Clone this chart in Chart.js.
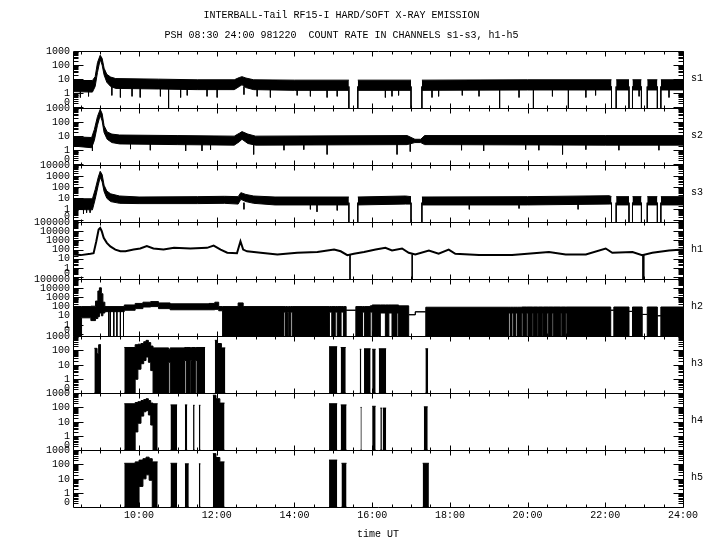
<!DOCTYPE html>
<html>
<head>
<meta charset="utf-8">
<script src="https://cdn.jsdelivr.net/npm/chart.js@4.4.0/dist/chart.umd.min.js"></script>
<style>
  html, body { margin: 0; padding: 0; background: #fff; }
</style>
</head>
<body>
<canvas id="myChart" width="720" height="550"></canvas>
<script>
// ---- data (counts per channel, time in hours UT) ----
var panelIds = ['s1', 's2', 's3', 'h1', 'h2', 'h3', 'h4', 'h5'];
var panelMin = [-1.05, -1.05, -1.14, -1.2, -1.2, -0.95, -0.95, -0.95];
var panelMax = [3, 3, 4, 5, 5, 3, 3, 3];
var zeroLabelAt = -0.63;
var sTickLabels = ['0', '1', '10', '100', '1000'];
var s3TickLabels = ['0', '1', '10', '100', '1000', '10000'];
var hTickLabels = ['0', '1', '10', '100', '1000', '10000', '100000'];
var hourLabels = [10, 12, 14, 16, 18, 20, 22, 24];

var s1Time = [8.30, 8.80, 8.87, 8.93, 9.00, 9.05, 9.10, 9.17, 9.27, 9.40, 10.50, 11.50, 12.45, 12.58, 12.65, 12.75, 12.95, 14.00, 15.40, 15.50, 15.63, 17.00, 17.10, 17.28, 20.00, 22.16, 22.20, 22.28, 22.61, 22.65, 22.70, 22.93, 23.00, 23.08, 23.34, 23.40, 23.43, 24.00];
var s1Hi = [8, 8, 15, 150, 500, 300, 60, 22, 14, 11, 10, 9, 9, 13, 15, 12, 9, 8.5, 8.5, null, 8.5, 8.5, null, 8.5, 9, 9, null, 9, 9, null, 9, 9, null, 9, 9, null, 9, 9];
var s1Lo = [1.3, 1.2, 3, 30, 250, 100, 20, 6, 3, 2.2, 2, 1.8, 1.8, 3, 4, 2.5, 1.8, 1.6, 1.6, null, 1.6, 1.6, null, 1.6, 1.7, 1.7, null, 1.7, 1.7, null, 1.7, 1.7, null, 1.7, 1.7, null, 1.7, 1.7];
var s1DropT = [10.76, 15.40, 15.63, 17.00, 17.28, 19.28, 20.15, 21.05, 22.16, 22.28, 22.61, 22.70, 22.93, 23.08, 23.34, 23.43];
var s1SpikeT = [8.49, 8.70, 9.30, 9.52, 9.82, 10.03, 10.55, 11.07, 11.24, 11.75, 12.01, 12.70, 13.04, 13.38, 14.07, 14.41, 14.84, 15.10, 16.34, 16.51, 16.68, 17.54, 17.71, 18.32, 18.75, 19.78, 20.64, 21.50, 21.75, 22.87, 23.64];
var s1SpikeV = [0.5, 0.6, 0.7, 0.5, 0.6, 0.5, 0.6, 0.5, 0.7, 0.6, 0.5, 0.8, 0.6, 0.5, 0.7, 0.6, 0.5, 0.6, 0.5, 0.6, 0.7, 0.5, 0.6, 0.7, 0.6, 0.5, 0.6, 0.5, 0.7, 0.6, 0.5];

var s2Time = [8.30, 8.78, 8.85, 8.93, 9.00, 9.05, 9.10, 9.18, 9.30, 9.50, 11.00, 12.45, 12.58, 12.65, 12.80, 13.00, 16.90, 17.10, 17.25, 17.35, 22.00, 24.00];
var s2Hi = [9, 8, 30, 250, 800, 400, 55, 20, 14, 12, 11, 10, 16, 21, 14, 10, 11, 6, 6, 11, 11, 11];
var s2Lo = [2, 1.5, 5, 60, 300, 120, 18, 6, 3.5, 2.8, 2.5, 2.3, 4, 6, 3, 2.3, 2.5, 3.5, 3.5, 2.5, 2.3, 2.3];
var s2SpikeT = [8.80, 9.78, 10.29, 11.20, 11.62, 11.84, 12.95, 13.73, 14.24, 14.84, 16.64, 16.98, 18.30, 18.87, 19.95, 20.29, 20.90, 21.50, 22.35, 23.38];
var s2SpikeV = [0.9, 1.2, 1.0, 0.9, 0.9, 1.1, 0.5, 1.0, 1.1, 0.5, 0.5, 0.8, 1.0, 0.9, 1.1, 1.0, 0.5, 1.1, 1.0, 1.0];

var s3Time = [8.30, 8.80, 8.87, 8.95, 9.00, 9.05, 9.10, 9.17, 9.27, 9.50, 10.00, 11.50, 12.20, 12.55, 12.62, 12.75, 12.95, 13.50, 15.40, 15.50, 15.63, 16.86, 17.00, 17.10, 17.28, 20.00, 22.10, 22.16, 22.20, 22.28, 22.61, 22.65, 22.70, 22.93, 23.00, 23.08, 23.34, 23.40, 23.43, 24.00];
var s3Hi = [9, 9, 60, 800, 2700, 1400, 150, 45, 25, 16, 13, 14, 15, 14, 32, 22, 16, 13, 13, null, 13, 16, 14, null, 13, 14, 17, 14, null, 14, 14, null, 14, 14, null, 14, 14, null, 14, 14];
var s3Lo = [1, 0.9, 8, 150, 800, 300, 40, 10, 5, 3.5, 3.3, 3.3, 3.5, 3, 8, 5, 3.5, 2.5, 2.5, null, 2.5, 3, 3, null, 2.5, 2.5, 3, 3, null, 2.5, 2.5, null, 2.5, 2.5, null, 2.5, 2.5, null, 2.5, 2.5];
var s3DropT = [15.40, 15.63, 17.00, 17.28, 22.16, 22.28, 22.61, 22.70, 22.93, 23.08, 23.34, 23.43];
var s3SpikeT = [8.57, 8.65, 8.74, 12.70, 14.41, 14.58, 15.10, 18.50, 19.78, 21.30];
var s3SpikeV = [0.4, 0.5, 0.5, 1.0, 1.0, 0.6, 0.8, 1.0, 1.2, 1.0];

var h1Time = [8.30, 8.50, 8.75, 8.83, 8.90, 8.96, 9.00, 9.04, 9.09, 9.17, 9.26, 9.39, 9.52, 9.65, 9.86, 10.03, 10.20, 10.37, 10.63, 10.90, 11.32, 11.75, 11.92, 12.10, 12.27, 12.52, 12.61, 12.68, 12.78, 13.13, 13.56, 14.07, 14.59, 15.02, 15.19, 15.36, 15.53, 15.79, 16.09, 16.34, 16.51, 16.77, 16.94, 17.11, 17.46, 17.71, 17.97, 18.14, 18.75, 19.60, 20.55, 20.98, 21.50, 22.01, 22.18, 22.70, 22.95, 23.21, 23.64, 24.00];
var h1Val = [30, 25, 35, 40, 800, 15000, 22000, 10000, 1900, 540, 220, 100, 65, 65, 100, 130, 235, 130, 100, 155, 130, 155, 275, 100, 45, 40, 800, 100, 65, 45, 29, 45, 55, 100, 65, 25, 35, 55, 100, 155, 80, 130, 45, 29, 80, 35, 100, 35, 25, 25, 55, 29, 29, 130, 45, 55, 25, 45, 80, 100];
var h1DropT = [15.43, 17.03, 22.97, 22.99];

var h2Time = [
  8.30, 8.52, 8.76, 8.88, 8.94, 8.98, 9.03, 9.07, 9.12, 9.62,
  9.90, 10.10, 10.30, 10.50, 10.80, 11.80, 11.95, 12.05, 12.15, 12.55,
  12.68, 13.73, 13.77, 13.82, 13.85, 13.90, 13.94, 14.90, 14.96, 15.05,
  15.10, 15.20, 15.26, 15.33, 15.58, 15.75, 15.80, 15.95, 16.00, 16.21,
  16.34, 16.43, 16.51, 16.64, 16.68, 16.94, 17.11, 17.38, 19.52, 19.56,
  19.60, 19.64, 19.70, 19.74, 19.85, 19.88, 19.98, 20.01, 20.12, 20.15,
  20.25, 20.28, 20.38, 20.41, 20.50, 20.53, 20.63, 20.66, 20.85, 20.88,
  20.98, 21.01, 22.14, 22.22, 22.61, 22.70, 22.95, 23.08, 23.34, 23.43,
  24.00];
var h2Hi = [
  100, 100, 110, 400, 5000, 11000, 2500, 300, 100, 150,
  220, 300, 350, 250, 200, 220, 300, 100, 100, 250,
  100, 100, 100, 100, 100, 100, 100, 100, 100, 100,
  100, 100, 100, 40, 100, 100, 100, 120, 150, 150,
  150, 150, 150, 150, 120, 13, 27, 85, 85, 85,
  85, 85, 85, 85, 90, 90, 90, 90, 90, 90,
  90, 90, 90, 90, 90, 90, 90, 90, 90, 90,
  90, 90, 40, 90, 30, 90, 14, 90, 10, 90,
  90];
var h2Lo = [
  0, 6, 3, 5, 8, 20, 10, 20, 28, 40,
  60, 90, 100, 60, 45, 45, 50, 35, 0, 0,
  0, 25, 0, 25, 0, 25, 0, 25, 0, 25,
  0, 25, 0, 40, 0, 25, 0, 25, 0, 20,
  0, 20, 0, 20, 0, 13, 27, 0, 20, 0,
  20, 0, 20, 0, 20, 0, 20, 0, 20, 0,
  20, 0, 20, 0, 20, 0, 20, 0, 20, 0,
  20, 0, 40, 0, 30, 0, 14, 0, 10, 0,
  0];
var h2DropT = [9.22, 9.26, 9.35, 9.43, 9.52, 9.60];

var h3Time = [8.85, 8.92, 8.96, 9.02, 9.62, 9.90, 9.97, 10.05, 10.12, 10.18,
  10.24, 10.30, 10.36, 10.76, 10.80, 11.17, 11.21, 11.32, 11.35, 11.45,
  11.49, 11.70, 11.95, 12.02, 12.12, 12.22, 14.89, 15.10, 15.19, 15.32,
  15.68, 15.72, 15.79, 15.96, 16.00, 16.09, 16.17, 16.36, 17.37, 17.44];
var h3Hi = [140, 60, 250, null, 160, 250, 270, 300, 400, 500,
  350, 200, 150, 120, 150, 160, 160, 160, 160, 160,
  160, null, 500, 300, 150, null, 180, null, 160, null,
  120, null, 130, null, 120, null, 130, null, 130, null];
var h3Lo = [0, 0, 0, null, 0, 1, 5, 12, 20, 35,
  15, 4, 0, 15, 0, 20, 0, 20, 0, 20,
  0, null, 0, 0, 0, null, 0, null, 0, null,
  0, null, 0, null, 0, null, 0, null, 0, null];

var h4Time = [9.62, 9.90, 9.97, 10.05, 10.12, 10.18, 10.24, 10.30, 10.36, 10.48,
  10.81, 10.98, 11.18, 11.24, 11.39, 11.43, 11.54, 11.58, 11.90, 11.98,
  12.08, 12.20, 14.89, 15.10, 15.19, 15.34, 15.70, 15.73, 16.00, 16.09,
  16.21, 16.25, 16.27, 16.36, 17.33, 17.43];
var h4Hi = [180, 220, 250, 300, 350, 400, 300, 200, 180, null,
  150, null, 150, null, 140, null, 140, null, 700, 400,
  200, null, 180, null, 150, null, 100, null, 120, null,
  90, null, 90, null, 110, null];
var h4Lo = [0, 2, 8, 25, 50, 60, 30, 6, 0, null,
  0, null, 0, null, 0, null, 0, null, 0, 0,
  0, null, 0, null, 0, null, 0, null, 0, null,
  0, null, 0, null, 0, null];

var h5Time = [9.62, 9.90, 10.00, 10.10, 10.18, 10.26, 10.34, 10.48, 10.81, 10.98,
  11.18, 11.28, 11.54, 11.58, 11.90, 11.98, 12.08, 12.20, 14.89, 15.10,
  15.21, 15.34, 17.30, 17.46];
var h5Hi = [120, 150, 200, 250, 320, 250, 150, null, 120, null,
  110, null, 110, null, 560, 300, 150, null, 200, null,
  120, null, 120, null];
var h5Lo = [0, 0, 3, 10, 19, 8, 0, null, 0, null,
  0, null, 0, null, 0, 0, 0, null, 0, null,
  0, null, 0, null];

var FONT = "'Liberation Mono', 'DejaVu Sans Mono', monospace";

// count -> log10 on the panel's axis, zero goes to the floor
function lg(v, p) {
  if (v === null) return null;
  var i = panelIds.indexOf(p);
  var y = v > 0 ? Math.log10(v) : panelMin[i];
  return Math.max(panelMin[i], Math.min(panelMax[i], y));
}

function pts(t, v, p, step) {
  var out = [];
  for (var i = 0; i < t.length; i++) {
    out.push({x: t[i], y: lg(v[i], p)});
    // stepped blocks: hold the value until the next (empty) time
    if (step && v[i] !== null && i + 1 < t.length && v[i + 1] === null) {
      out.push({x: t[i + 1], y: lg(v[i], p)});
    }
  }
  return out;
}

function band(p, t, hi, lo, step) {
  return [{
    yAxisID: 'y' + p, data: pts(t, hi, p, step), stepped: step ? 'before' : false,
    fill: '+1', backgroundColor: '#000', borderColor: '#000', borderWidth: 1, pointRadius: 0
  }, {
    yAxisID: 'y' + p, data: pts(t, lo, p, step), stepped: step ? 'before' : false,
    fill: false, borderColor: '#000', borderWidth: 1, pointRadius: 0
  }];
}

function sticks(p, times, from, to) {
  var out = [];
  times.forEach(function (t, i) {
    var v = Array.isArray(to) ? to[i] : to;
    out.push({x: t, y: lg(from, p)}, {x: t, y: lg(v, p)}, {x: t, y: null});
  });
  return {yAxisID: 'y' + p, data: out, fill: false, borderColor: '#000', borderWidth: 1, pointRadius: 0};
}

var datasets = [].concat(
  band('s1', s1Time, s1Hi, s1Lo, false),
  [sticks('s1', s1DropT, 3, 0), sticks('s1', s1SpikeT, 3, s1SpikeV)],
  band('s2', s2Time, s2Hi, s2Lo, false),
  [sticks('s2', s2SpikeT, 3, s2SpikeV)],
  band('s3', s3Time, s3Hi, s3Lo, false),
  [sticks('s3', s3DropT, 4, 0), sticks('s3', s3SpikeT, 4, s3SpikeV)],
  [{yAxisID: 'yh1', data: pts(h1Time, h1Val, 'h1', false), fill: false, borderColor: '#000', borderWidth: 2, pointRadius: 0},
   sticks('h1', h1DropT, 30, 0)],
  band('h2', h2Time, h2Hi, h2Lo, true),
  [sticks('h2', h2DropT, 40, 0)],
  band('h3', h3Time, h3Hi, h3Lo, true),
  band('h4', h4Time, h4Hi, h4Lo, true),
  band('h5', h5Time, h5Hi, h5Lo, true)
);

function tickLabelsFor(p) {
  if (p === 's3') return s3TickLabels;
  if (p === 'h1' || p === 'h2') return hTickLabels;
  return sTickLabels;
}

var scales = {
  x: {
    type: 'linear', position: 'bottom', min: 8.3, max: 24,
    grid: {display: false, drawTicks: false}, border: {display: false},
    afterBuildTicks: function (scale) {
      scale.ticks = hourLabels.map(function (h) { return {value: h}; });
    },
    ticks: {
      autoSkip: false, maxRotation: 0, padding: 2, color: '#000',
      font: {family: FONT, size: 10},
      callback: function (v) { return v + ':00'; }
    },
    title: {display: true, text: 'time UT', color: '#000', font: {family: FONT, size: 10}, padding: {top: 5, bottom: 0}}
  }
};
// last defined left axis is stacked at the top
panelIds.slice().reverse().forEach(function (p) {
  var i = panelIds.indexOf(p);
  var labels = tickLabelsFor(p);
  scales['y' + p] = {
    type: 'linear', position: 'left', stack: 'panels', stackWeight: 1,
    min: panelMin[i], max: panelMax[i],
    grid: {display: false, drawTicks: false}, border: {display: false},
    afterFit: function (scale) { scale.width = 73; },
    afterBuildTicks: function (scale) {
      scale.ticks = labels.map(function (l) { return {value: l === '0' ? zeroLabelAt : Math.log10(+l)}; });
    },
    ticks: {
      autoSkip: false, padding: 3, color: '#000', font: {family: FONT, size: 10},
      callback: function (v) { return Math.abs(v - zeroLabelAt) < 1e-6 ? '0' : String(Math.round(Math.pow(10, v))); }
    }
  };
});

var framePlugin = {
  id: 'frame',
  afterDatasetsDraw: function (chart) {
    var ctx = chart.ctx, area = chart.chartArea, xs = chart.scales.x;
    var L = Math.round(area.left) + 0.5, R = Math.round(area.right) + 0.5;
    ctx.save();
    ctx.strokeStyle = '#000';
    ctx.fillStyle = '#000';
    ctx.lineWidth = 1;
    ctx.font = '10px ' + FONT;
    ctx.textBaseline = 'middle';
    ctx.textAlign = 'left';
    panelIds.forEach(function (p, i) {
      var ys = chart.scales['y' + p];
      var top = Math.round(ys.top) + 0.5, bot = Math.round(ys.bottom) + 0.5;
      ctx.beginPath();
      ctx.rect(L, top, R - L, bot - top);
      // time ticks on both edges of the panel
      for (var h = 8.5; h <= 24; h += 0.5) {
        var px = Math.round(xs.getPixelForValue(h)) + 0.5;
        var len = h % 2 === 0 ? 5 : 3;
        ctx.moveTo(px, top); ctx.lineTo(px, top + len);
        ctx.moveTo(px, bot); ctx.lineTo(px, bot - len);
      }
      // log ticks left and right
      for (var d = Math.floor(panelMin[i]); d < panelMax[i]; d++) {
        for (var k = 1; k <= 9; k++) {
          var v = d + Math.log10(k);
          if (v <= panelMin[i] || v >= panelMax[i]) continue;
          var py = Math.round(ys.getPixelForValue(v)) + 0.5;
          var tl = k === 1 ? 10 : 5;
          ctx.moveTo(L, py); ctx.lineTo(L + tl, py);
          ctx.moveTo(R, py); ctx.lineTo(R - tl, py);
        }
      }
      ctx.stroke();
      ctx.fillText(p, 691, (ys.top + ys.bottom) / 2 - 1);
    });
    ctx.restore();
  }
};

new Chart(document.getElementById('myChart'), {
  type: 'line',
  data: {datasets: datasets},
  options: {
    responsive: false,
    animation: false,
    devicePixelRatio: 1,
    events: [],
    layout: {padding: {left: 0, right: 37, top: 0, bottom: 10}},
    scales: scales,
    plugins: {
      legend: {display: false},
      tooltip: {enabled: false},
      title: {
        display: true, color: '#000',
        text: ['INTERBALL-Tail RF15-I HARD/SOFT X-RAY EMISSION', 'PSH 08:30 24:00 981220  COUNT RATE IN CHANNELS s1-s3, h1-h5'],
        font: {family: FONT, size: 10, weight: 'normal', lineHeight: 2.05},
        padding: {top: 4.75, bottom: 5.25}
      }
    }
  },
  plugins: [framePlugin]
});
</script>
</body>
</html>
